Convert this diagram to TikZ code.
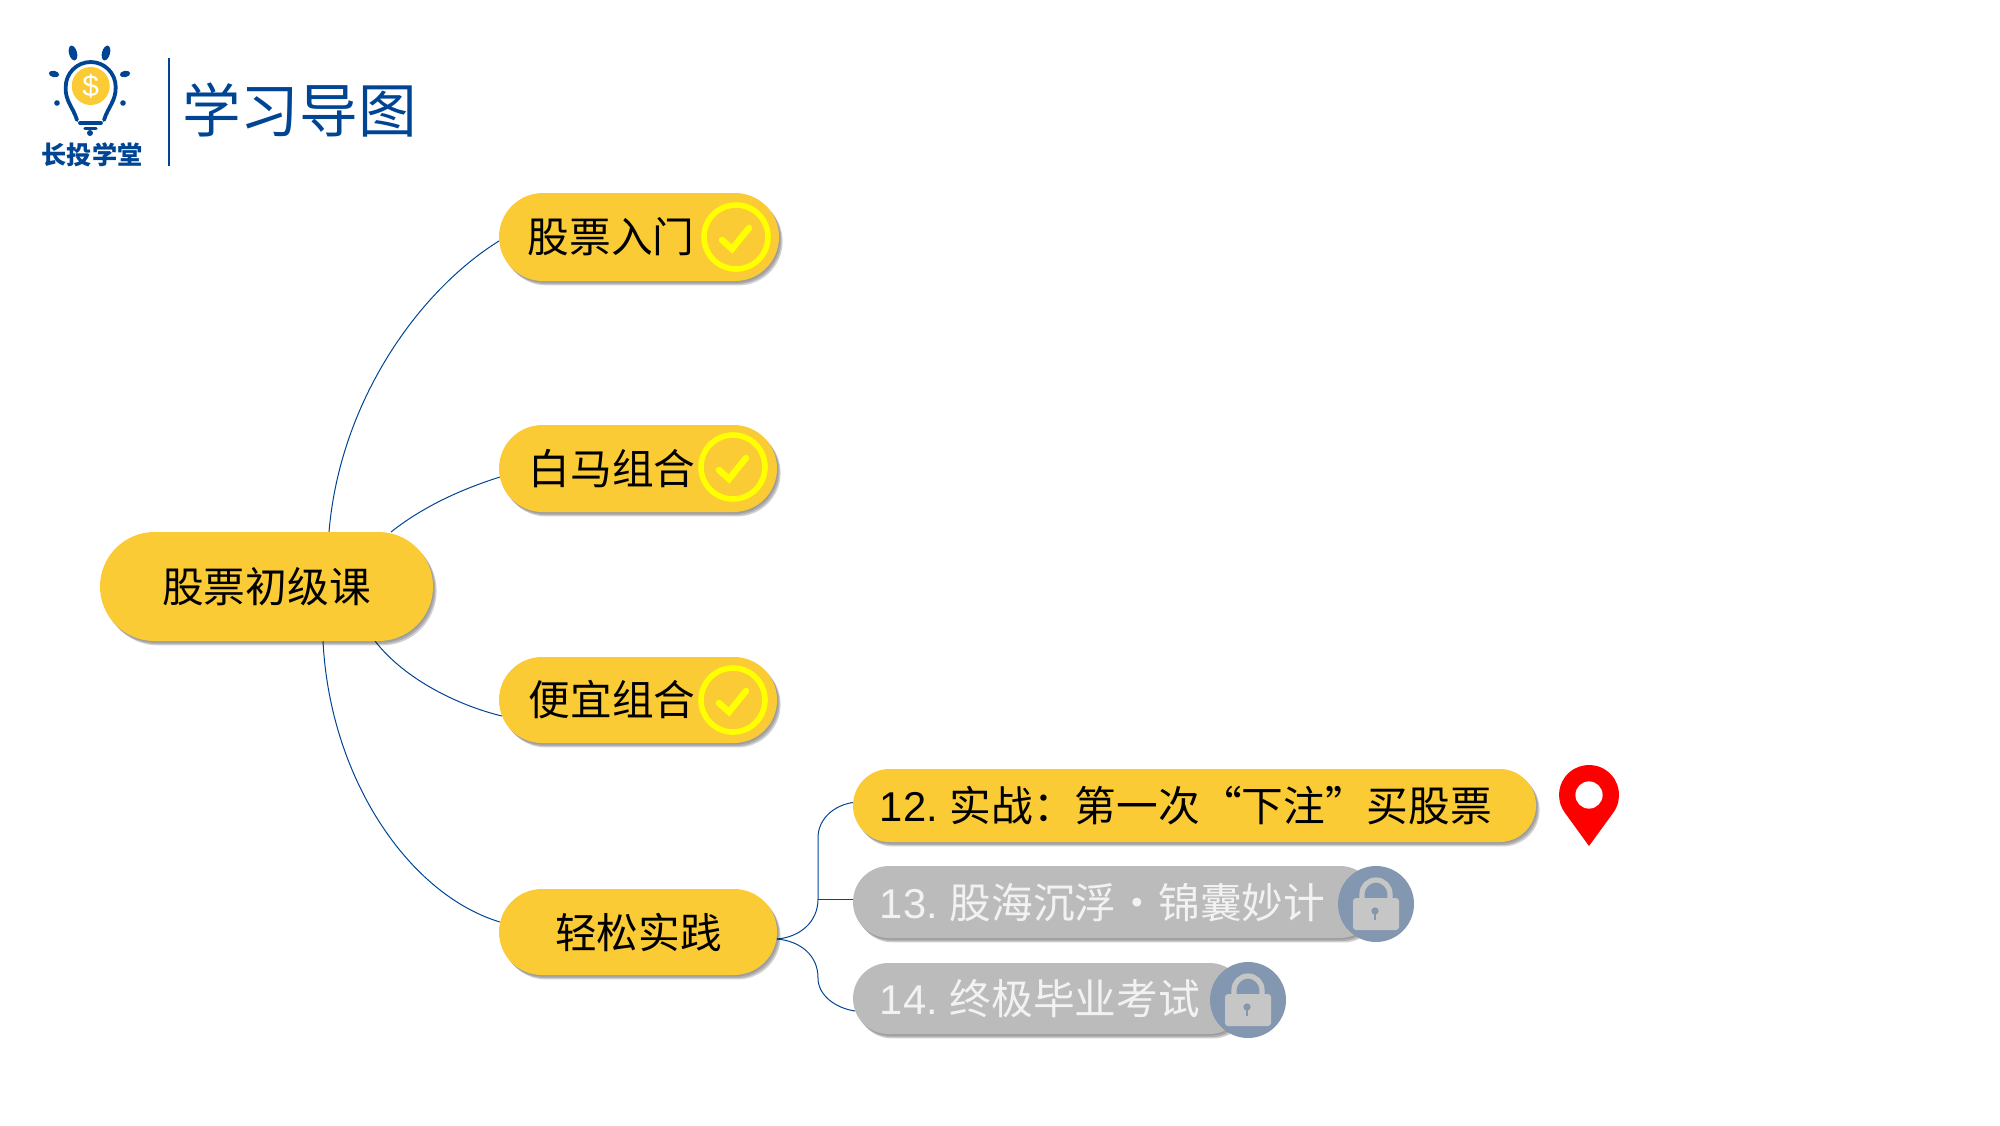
\documentclass[tikz,border=0pt]{standalone}
\usepackage{fontspec}
\setmainfont{Liberation Sans}
\newfontfamily\cjk{Noto Sans CJK SC}
\usetikzlibrary{shapes.misc,calc,backgrounds}
\definecolor{pillyellow}{HTML}{FBCB35}
\definecolor{pillgray}{HTML}{BBBBBB}
\definecolor{logoblue}{HTML}{004494}
\definecolor{lockblue}{HTML}{8497B0}
\definecolor{lockgray}{HTML}{C6C6C6}
\definecolor{ringyellow}{HTML}{FFFF00}
\tikzset{
  softshadow/.style={
    preaction={draw=none,fill=black,fill opacity=.10,transform canvas={xshift=.6pt,yshift=-.8pt}},
    preaction={draw=none,fill=black,fill opacity=.16,transform canvas={xshift=1.2pt,yshift=-1.5pt}},
    preaction={draw=none,fill=black,fill opacity=.18,transform canvas={xshift=1.8pt,yshift=-2.2pt}}},
  pill/.style={rounded rectangle,inner sep=0pt,outer sep=0pt,fill=pillyellow,softshadow},
  graypill/.style={pill,fill=pillgray},
  mainlabel/.style={inner sep=0pt,text=black,font=\fontsize{20.85pt}{24pt}\selectfont\cjk},
  leaflabel/.style={inner sep=0pt,text=black,anchor=west,font=\fontsize{20.85pt}{24pt}\selectfont},
  greylabel/.style={leaflabel,text=white!95!black},
  link/.style={draw=logoblue,line width=.5pt},
  tick/.pic={
    \draw[ringyellow,line width=2.8pt] (0,0) circle[radius=16pt];
    \draw[ringyellow,line width=3.2pt,line cap=round,line join=miter] (-14,3) -- (-4,12) -- (13,-9);
  },
  lockicon/.pic={
    \fill[lockblue] (0,0) circle[radius=19pt];
    \draw[lockgray,line width=2.6pt] (-14,-4) -- (-14,-10) arc[start angle=180,end angle=0,radius=7pt] -- (14,-4);
    \fill[lockgray,rounded corners=1.5pt] (-23,-6) rectangle (23,26);
    \fill[lockblue] (-1,7) circle[radius=1.8pt];
    \draw[lockblue,line width=1pt] (-1,7) -- (-1,16);
  }
}
\begin{document}
\begin{tikzpicture}[x=.5pt,y=-.5pt]
\useasboundingbox (0,0) rectangle (2000,1125);
% logo
\fill[pillyellow] (90.7,86) circle[radius=9.5pt];
\node (coin) at (90.7,86) {\textcolor{white}{\fontsize{15pt}{16pt}\selectfont\$}};
\draw[logoblue,line width=1.9pt,line cap=round] (77,120) .. controls (73,107) and (65,101) .. (65.7,87)
  arc[start angle=180,end angle=0,radius=12.5pt] .. controls (116,101) and (108,107) .. (104,120);
\draw[logoblue,line width=1.9pt,line cap=round] (80,123) -- (101,123);
\draw[logoblue,line width=1.7pt,line cap=round] (85,128.5) -- (96,128.5);
\fill[logoblue] (90,133) circle[radius=1.5pt];
\fill[logoblue,rotate around={15:(73,53)}] (73,53) ellipse[x radius=2pt,y radius=3.8pt];
\fill[logoblue,rotate around={-15:(106,53)}] (106,53) ellipse[x radius=2pt,y radius=3.8pt];
\fill[logoblue,rotate around={-10:(54,74)}] (54,74) ellipse[x radius=2.6pt,y radius=1.6pt];
\fill[logoblue,rotate around={10:(125,74)}] (125,74) ellipse[x radius=2.6pt,y radius=1.6pt];
\fill[logoblue] (57,103) circle[radius=1.4pt];
\fill[logoblue] (123,103) circle[radius=1.4pt];
\node[inner sep=0pt,text=logoblue,font=\fontsize{12.6pt}{14pt}\selectfont\cjk\bfseries] (brand) at (92,155) {长投学堂};
\draw[logoblue,line width=1.1pt] (169,58) -- (169,166);
\node[inner sep=0pt,text=logoblue,font=\fontsize{29.3pt}{32pt}\selectfont\cjk] (title) at (299.5,110) {学习导图};
% nodes
\node[pill,minimum width=166.5pt,minimum height=54.5pt] (root) at (266.5,586.5) {};
\node[mainlabel] (rootT) at (266.5,587) {股票初级课};
\node[pill,minimum width=140pt,minimum height=44pt] (a) at (639,237) {};
\node[mainlabel] (aT) at (611,237) {股票入门};
\node[pill,minimum width=139pt,minimum height=43.5pt] (b) at (638,468.5) {};
\node[mainlabel] (bT) at (612,469) {白马组合};
\node[pill,minimum width=139pt,minimum height=43pt] (c) at (638,700) {};
\node[mainlabel] (cT) at (612,700) {便宜组合};
\node[pill,minimum width=139pt,minimum height=43pt] (d) at (638,932) {};
\node[mainlabel] (dT) at (638.5,932) {轻松实践};
\pic at (736,237) {tick};
\pic at (733,467) {tick};
\pic at (733,700) {tick};
\node[pill,minimum width=341.5pt,minimum height=36.5pt] (e12) at (1194.5,805.5) {};
\node[leaflabel] (t12) at (879.5,805.5) {12. \kern-1.75pt{\cjk 实战：第一次“下注”买股票}};
\node[graypill,minimum width=261.5pt,minimum height=36pt] (e13) at (1114.5,902) {};
\node[greylabel] (t13) at (879.5,902.5) {13. \kern-1.75pt{\cjk 股海沉浮\makebox[20.85pt]{·}锦囊妙计}};
\node[graypill,minimum width=196pt,minimum height=35.5pt] (e14) at (1049,998.5) {};
\node[greylabel] (t14) at (879.5,998.5) {14. \kern-1.75pt{\cjk 终极毕业考试}};
\pic at (1376,904) {lockicon};
\pic at (1248,1000) {lockicon};
% pin
\fill[red] (1613.3,812.6) arc[start angle=-36,end angle=216,radius=15pt] -- (1589,846) -- cycle;
\fill[white] (1589,795) circle[radius=6.8pt];
% connectors
\begin{pgfonlayer}{background}
\path[link] ($(root.north)+(62.5,0)$) .. controls (340,400) and (420,290) .. ($(a.west)+(0,4)$);
\path[link] ($(root.north)+(124.5,0)$) .. controls (425,505) and (465,488) .. ($(b.west)+(1,8.5)$);
\path[link] ($(root.south)+(108.5,0)$) .. controls (405,680) and (460,706) .. ($(c.west)+(3,16)$);
\path[link] ($(root.south)+(56.5,0)$) .. controls (330,780) and (410,895) .. ($(d.west)+(1,-10)$);
\coordinate (fork) at ($(d.east)+(0,7)$);
\coordinate (spine) at (818,899);
\path[link] (fork) .. controls (800,937) and (818,922) .. (spine) -- (818,838) .. controls (818,818) and (835,805) .. ($(e12.west)+(0,-3)$);
\path[link] (spine) -- ($(e13.west)+(0,-3)$);
\path[link] (fork) .. controls (800,941) and (818,955) .. (818,978) .. controls (818,995) and (835,1008) .. ($(e14.west)+(2,12.5)$);
\end{pgfonlayer}
\end{tikzpicture}
\end{document}
